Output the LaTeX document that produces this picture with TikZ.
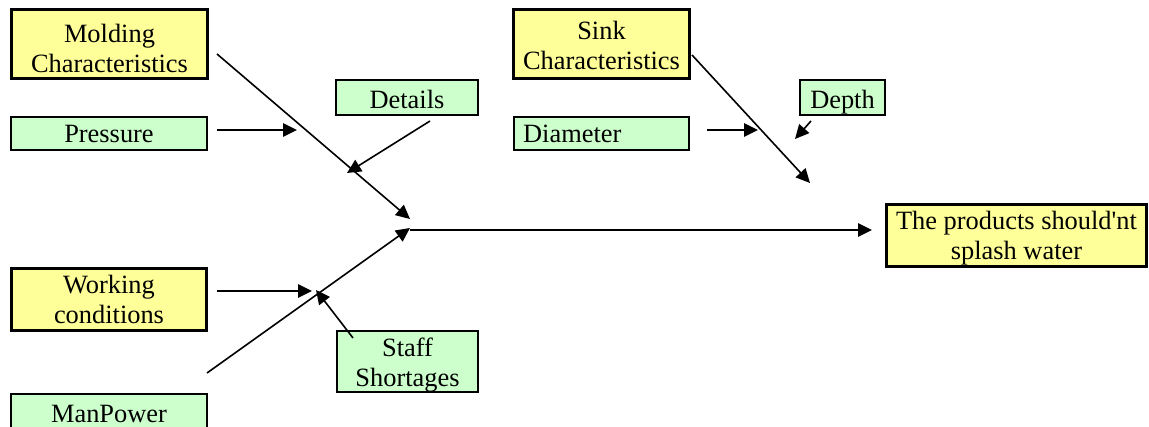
\documentclass[tikz,border=0pt]{standalone}
\usepackage{fontspec}
\setmainfont{Liberation Serif}
\usetikzlibrary{arrows.meta}
\definecolor{causeyellow}{RGB}{255,255,153}
\definecolor{subgreen}{RGB}{204,255,204}
\newcommand{\boxfont}{\fontsize{19.8pt}{22.5pt}\selectfont}
\tikzset{
  causebox/.style={draw, line width=2.4pt, fill=causeyellow, inner sep=0pt},
  subbox/.style={draw, line width=1.4pt, fill=subgreen, inner sep=0pt},
  boxtext/.style={align=center, inner sep=0pt, font=\boxfont},
  bone/.style={line width=1.2pt, -{Triangle[length=10.5pt,width=10pt]}}
}
\begin{document}
\begin{tikzpicture}[x=0.75pt, y=-0.75pt]
  \clip (0,0) rectangle (1149,427);
  \fill[white] (0,0) rectangle (1149,427);

  % main causes
  \node[causebox, minimum width=147pt, minimum height=52pt,
    label={[boxtext, yshift=-3pt]center:{Molding\\Characteristics}}] (mold) at (109.5,44) {};
  \node[causebox, minimum width=132pt, minimum height=52pt,
    label={[boxtext, yshift=-0.75pt]center:{Sink\\Characteristics}}] (sink) at (601.5,44) {};
  \node[causebox, minimum width=146pt, minimum height=47pt,
    label={[boxtext]center:{Working\\conditions}}] (work) at (109,299.5) {};
  \node[causebox, minimum width=195pt, minimum height=47pt,
    label={[boxtext, yshift=-2.25pt]center:{The products should\textquotesingle nt\\splash water}}] (prod) at (1016.5,235.5) {};

  % secondary causes
  \node[subbox, minimum width=147pt, minimum height=25pt,
    label={[boxtext]center:{Pressure}}] (press) at (109,133.5) {};
  \node[subbox, minimum width=107pt, minimum height=26.5pt,
    label={[boxtext, yshift=-1.5pt]center:{Details}}] (details) at (407,97.5) {};
  \node[subbox, minimum width=131.5pt, minimum height=25pt,
    label={[boxtext, anchor=west, xshift=7.5pt]west:{Diameter}}] (diam) at (601.5,133.5) {};
  \node[subbox, minimum width=64pt, minimum height=26.5pt,
    label={[boxtext, yshift=-3.75pt]center:{Depth}}] (depth) at (842.5,97.5) {};
  \node[subbox, minimum width=106pt, minimum height=46pt,
    label={[boxtext, yshift=-3pt]center:{Staff\\Shortages}}] (staff) at (407.5,361.5) {};
  \node[subbox, minimum width=147pt, minimum height=30pt, anchor=north,
    label={[boxtext]center:{ManPower}}] (manp) at (109,393.5) {};

  % bone end points
  \coordinate (head) at (410,230);
  \coordinate (moldA) at (217,54);
  \coordinate (moldB) at (410,219);
  \coordinate (pressA) at (217,130);
  \coordinate (pressB) at (297,130);
  \coordinate (detA) at (430,121);
  \coordinate (detB) at (347,173);
  \coordinate (sinkA) at (692,55);
  \coordinate (sinkB) at (810,183);
  \coordinate (diamA) at (707,130);
  \coordinate (diamB) at (758,130);
  \coordinate (depA) at (811,121);
  \coordinate (depB) at (795,139);
  \coordinate (workA) at (217,291);
  \coordinate (workB) at (312,291);
  \coordinate (manA) at (207,373);
  \coordinate (manB) at (410,228);
  \coordinate (staffA) at (353,338);
  \coordinate (staffB) at (316,290);
  \coordinate (prodB) at (872,230);

  % spine
  \draw[bone] (head) -- (prodB);

  % bones
  \draw[bone] (moldA) -- (moldB);
  \draw[bone] (pressA) -- (pressB);
  \draw[bone] (detA) -- (detB);
  \draw[bone] (sinkA) -- (sinkB);
  \draw[bone] (diamA) -- (diamB);
  \draw[bone] (depA) -- (depB);
  \draw[bone] (workA) -- (workB);
  \draw[bone] (manA) -- (manB);
  \draw[bone] (staffA) -- (staffB);
\end{tikzpicture}
\end{document}
